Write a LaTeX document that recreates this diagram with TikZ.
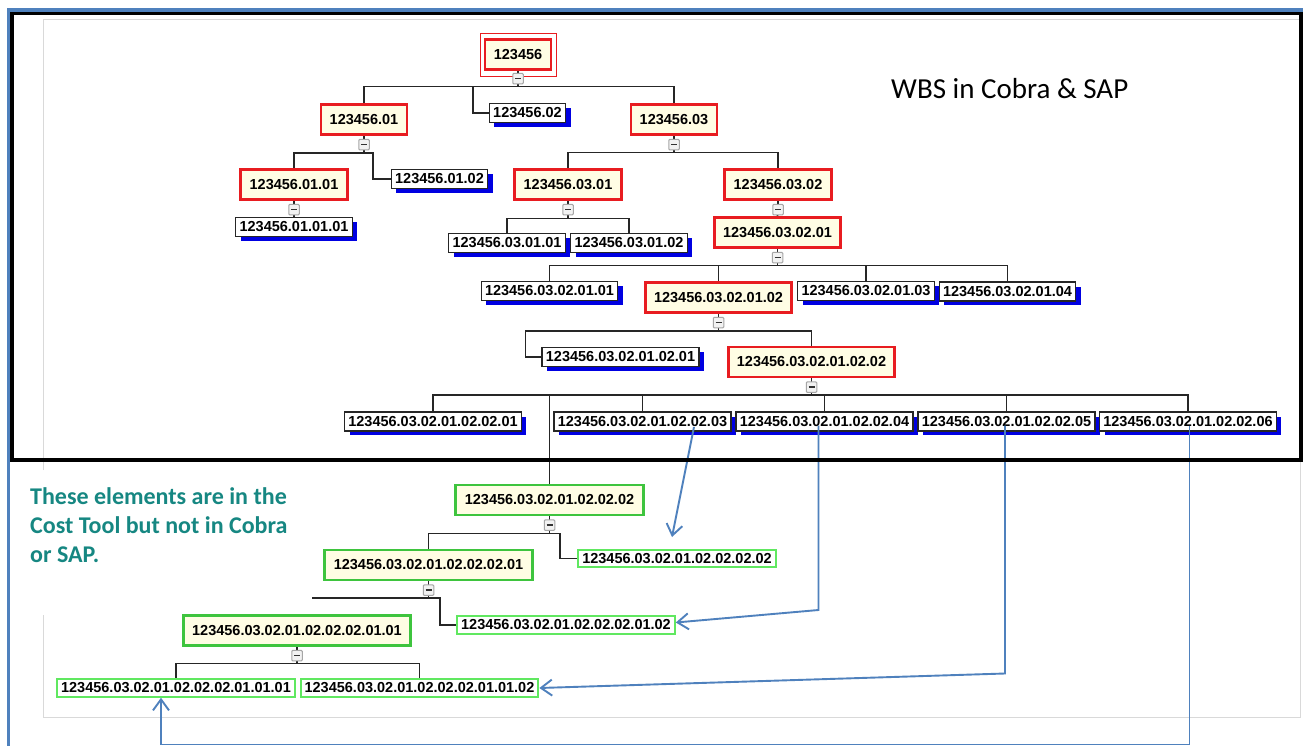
\documentclass[tikz,border=0pt]{standalone}
\usepackage{fontspec}
\setmainfont{Liberation Sans}
\newfontfamily\calfont{Carlito}
\usetikzlibrary{positioning,shadows,backgrounds,arrows.meta}

\definecolor{wbsred}{RGB}{232,28,32}
\definecolor{cream}{RGB}{255,253,228}
\definecolor{shadowblue}{RGB}{0,0,225}
\definecolor{costgreen}{RGB}{62,196,62}
\definecolor{leafgreen}{RGB}{96,232,96}
\definecolor{linkblue}{RGB}{79,129,189}
\definecolor{notegreen}{RGB}{22,135,130}

\begin{document}
\begin{tikzpicture}[x=1pt,y=-1pt,
    idbox/.style={font=\bfseries\fontsize{14.5}{16}\selectfont, inner ysep=0pt},
    wbs/.style={idbox, draw=wbsred, line width=2.8pt, fill=cream, inner xsep=8.8pt, minimum height=30pt},
    leaf/.style={idbox, draw=black!85, line width=1.3pt, fill=white, inner xsep=3.8pt, minimum height=18.8pt,
        drop shadow={shadow xshift=5pt, shadow yshift=-4.5pt, fill=shadowblue, opacity=1}},
    cost/.style={idbox, draw=costgreen, line width=2.8pt, fill=cream, inner xsep=9pt, minimum height=30pt},
    costleaf/.style={idbox, draw=leafgreen, line width=2pt, fill=white, inner xsep=4pt, minimum height=17.5pt},
    collapse/.style={draw=gray!70, fill=gray!10, line width=1pt, minimum size=10.5pt, inner sep=0pt,
        rounded corners=1pt,
        path picture={\draw[black!80, line width=1.6pt]
            ([xshift=-3pt]path picture bounding box.center) -- ([xshift=3pt]path picture bounding box.center);}},
    wire/.style={draw=black!85, line width=1.7pt},
    link/.style={draw=linkblue, line width=1.9pt, -{Straight Barb[length=11pt,width=16pt]}}]

\useasboundingbox (0,0) rectangle (1303,746);
\begin{scope}[on background layer]
    \fill[white] (0,0) rectangle (1303,746);
\end{scope}

% screenshot border, partly hidden behind the note
\coordinate (cut) at (312,0);
\draw[gray!30, line width=1pt] (43,470) -- (43,20) -- (1300,20) -- (1300,717) -- (43,717) -- (43,615);

% WBS in Cobra & SAP
\node[wbs] (root) at (518,54.5) {123456};
\draw[draw=wbsred, line width=1.1pt] ([xshift=-3.5pt,yshift=4.5pt]root.north west) rectangle ([xshift=4.5pt,yshift=-5.5pt]root.south east);
\node[collapse, below=2pt of root] (iroot) {};

\node[wbs]  (n01) at (364,119.5) {123456.01};
\node[leaf] (n02) at (527.5,113) {123456.02};
\node[wbs]  (n03) at (674,119.5) {123456.03};

\node[wbs]  (n0101)   at (294,184.5) {123456.01.01};
\node[leaf] (n0102)   at (439.5,179) {123456.01.02};
\node[leaf] (n010101) at (294,227)   {123456.01.01.01};

\node[wbs]  (n0301)   at (568,184.5) {123456.03.01};
\node[wbs]  (n0302)   at (778,184.5) {123456.03.02};
\node[leaf] (n030101) at (507,243)   {123456.03.01.01};
\node[leaf] (n030102) at (629,243)   {123456.03.01.02};
\node[wbs]  (n030201) at (777.5,232.5) {123456.03.02.01};

\node[leaf] (n03020101) at (549.5,291)   {123456.03.02.01.01};
\node[wbs]  (n03020102) at (718.5,297.5) {123456.03.02.01.02};
\node[leaf] (n03020103) at (866,291)     {123456.03.02.01.03};
\node[leaf] (n03020104) at (1007.5,291.5) {123456.03.02.01.04};

\node[leaf] (n0302010201) at (620.5,357) {123456.03.02.01.02.01};
\node[wbs]  (n0302010202) at (811.5,362) {123456.03.02.01.02.02};
\foreach \nm/\x in {01/433, 03/642.5, 04/824.5, 05/1006.5, 06/1188}
    \node[leaf] (n0302010202\nm) at (\x,421.5) {123456.03.02.01.02.02.\nm};

% elements of the cost tool only
\node[cost]     (ct)    at (549.5,500) {123456.03.02.01.02.02.02};
\node[costleaf] (ct2)   at (677,558.5) {123456.03.02.01.02.02.02.02};
\node[cost]     (ct1)   at (428.5,565) {123456.03.02.01.02.02.02.01};
\node[costleaf] (ct12)  at (566,625)   {123456.03.02.01.02.02.02.01.02};
\node[cost]     (ct11)  at (297,630.5) {123456.03.02.01.02.02.02.01.01};
\node[costleaf] (ct111) at (176,688)   {123456.03.02.01.02.02.02.01.01.01};
\node[costleaf] (ct112) at (419.5,688) {123456.03.02.01.02.02.02.01.01.02};

\foreach \p in {n01,n03,n0101,n0301,n0302,n030201,n03020102,n0302010202,ct,ct1,ct11}
    \node[collapse, below=3pt of \p] (i\p) {};

\begin{scope}[on background layer]
    \draw[wire] (root.south) -- ([yshift=-2pt]iroot.south) coordinate (broot) -| (n01.north);
    \draw[wire] (broot) -| (n03.north);
    \draw[wire] (broot) -| ([xshift=-16pt]n02.west) -- (n02.west);
    \draw[wire] (n01.south) -- ([yshift=-2.5pt]in01.south) coordinate (b01) -| (n0101.north);
    \draw[wire] (b01) -| ([xshift=-18pt]n0102.west) -- (n0102.west);
    \draw[wire] (n0101.south) -- (n010101.north);
    \draw[wire] (n03.south) -- ([yshift=-2pt]in03.south) coordinate (b03) -| (n0301.north);
    \draw[wire] (b03) -| (n0302.north);
    \draw[wire] (n0301.south) -- ([yshift=-3pt]in0301.south) coordinate (b0301) -| (n030101.north);
    \draw[wire] (b0301) -| (n030102.north);
    \draw[wire] (n0302.south) -- (n030201.north);
    \draw[wire] (n030201.south) -- ([yshift=-2pt]in030201.south) coordinate (b030201);
    \foreach \c in {01,02,03,04}
        \draw[wire] (b030201) -| (n030201\c.north);
    \draw[wire] (n03020102.south) -- ([yshift=-2.5pt]in03020102.south) coordinate (b03020102) -| (n0302010202.north);
    \draw[wire] (b03020102) -| ([xshift=-16pt]n0302010201.west) -- (n0302010201.west);
    \draw[wire] (n0302010202.south) -- ([yshift=-2pt]in0302010202.south) coordinate (b0302010202);
    \foreach \c in {01,03,04,05,06}
        \draw[wire] (b0302010202) -| (n0302010202\c.north);
    \draw[wire] (b0302010202) -| (ct.north);
    \draw[wire] (ct.south) -- ([yshift=-2.5pt]ict.south) coordinate (bct) -| (ct1.north);
    \draw[wire] (bct) -| ([xshift=-17pt]ct2.west) -- (ct2.west);
    \draw[wire] (ct1.south) -- ([yshift=-2pt]ict1.south) coordinate (bct1) -| ([xshift=-16pt]ct12.west) -- (ct12.west);
    \draw[wire] (bct1) -- (bct1 -| cut);
    \draw[wire] (ct11.south) -- ([yshift=-2pt]ict11.south) coordinate (bct11) -| (ct111.north);
    \draw[wire] (bct11) -| (ct112.north);
\end{scope}

% where the cost tool elements come from
\draw[link] ([xshift=51.5pt,yshift=-5.5pt]n030201020203.center) -- (672,537);
\draw[link] ([xshift=-6pt,yshift=-4pt]n030201020204.center) -- ++(0,184.5) -- ([yshift=2.5pt]ct12.east);
\draw[link] ([xshift=-1.5pt,yshift=-4pt]n030201020205.center) -- ++(0,248) -- (ct112.east);
\draw[link] ([xshift=1.5pt,yshift=-4pt]n030201020206.center) -- ++(0,319) -| ([xshift=-15pt]ct111.south);

% frames
\draw[line width=4pt] (11.7,13.5) rectangle (1301,460);
\draw[linkblue, line width=3.4pt] (8.3,746) -- (8.3,10) -- (1303,10);

\node[anchor=base west, inner sep=0pt, font=\calfont\fontsize{29}{34}\selectfont] (title) at (891,99) {WBS in Cobra \& SAP};
\node[anchor=north west, inner sep=0pt, align=left, text=notegreen,
    font=\calfont\bfseries\fontsize{24}{29.3}\selectfont] (note) at (30,487)
    {These elements are in the\\Cost Tool but not in Cobra\\or SAP.};
\end{tikzpicture}
\end{document}
